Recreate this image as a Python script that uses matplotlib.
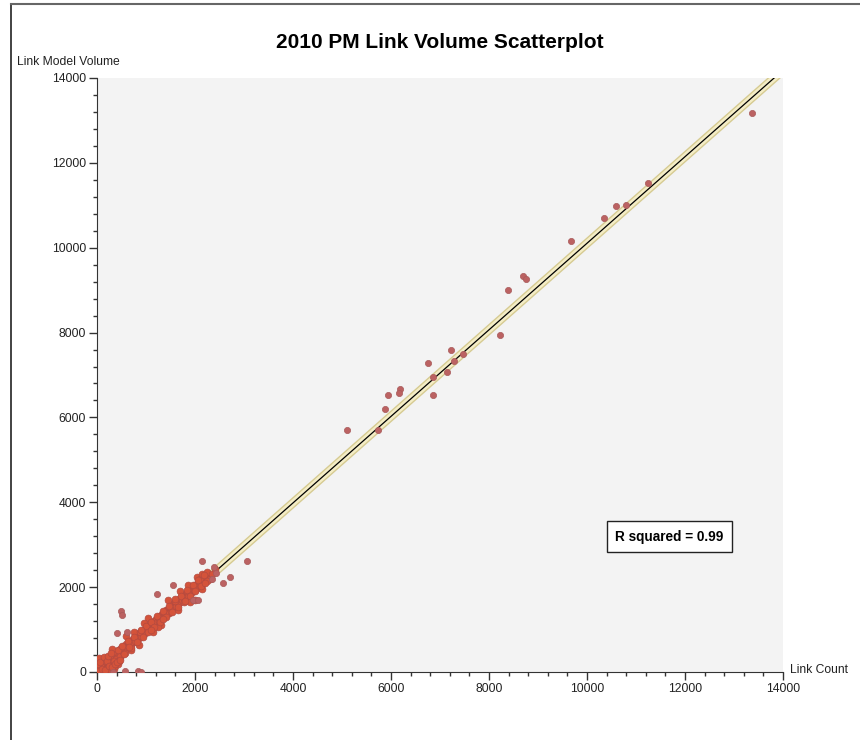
import matplotlib.pyplot as plt
from matplotlib.ticker import MultipleLocator
from matplotlib.lines import Line2D

plt.rcParams['font.family'] = ['Liberation Sans', 'DejaVu Sans']

# Link count (x) and model volume (y)
# dense cluster near the diagonal
cluster_x = [10, 30, 20, 60, 50, 80, 100, 120, 140, 150, 170, 180, 200, 210, 230, 240, 250,
             270, 280, 300, 310, 320, 340, 350, 370, 380, 400, 410, 420, 440, 450, 460, 480,
             490, 500, 40, 90, 130, 160, 190, 220, 260, 290, 330, 360, 390, 430, 470,
             520, 540, 560, 580, 600, 620, 640, 660, 680, 700, 720, 740, 760, 780, 800, 820,
             840, 860, 880, 900, 920, 940, 960, 980, 1000, 1020, 1040, 1060, 1080, 1100, 1120,
             1140, 1160, 1180, 1200, 1220, 1240, 1260, 1280, 1300, 1320, 1340, 1360, 1380,
             1400, 1420, 1440, 1460, 1480, 1500, 1520, 1540, 1560, 1580, 1600, 1620, 1640,
             1660, 1680, 1700, 1720, 1740, 1760, 1780, 1800, 1820, 1840, 1860, 1880, 1900,
             1920, 1940, 1960, 1980, 2000, 2020, 2040, 2060, 2080, 2100, 2120, 2140, 2160,
             2180, 2200, 2220, 2240, 2260, 2280, 2300,
             700, 850, 1050, 1300, 1700, 1900, 2000, 950, 1150, 600, 450, 300, 1450, 1650,
             1850, 2050, 2150, 750, 1250, 2100, 2150, 2250, 2300, 2350, 2400,
             15, 45, 70, 110, 135, 165, 195, 225, 255, 285, 315, 345, 375, 405, 435, 465,
             510, 570, 630, 690, 750, 810, 870, 930, 990, 1050, 1110, 1170, 1230, 1290,
             1350, 1410, 1470, 1530, 1590, 1650, 1710, 1770, 1830, 1890, 1950, 2010, 2070,
             2130, 2190, 2250, 550, 650, 900, 1100, 1350, 1600, 1800, 2200]
cluster_y = [40, 120, 260, 310, 200, 80, 20, 150, 300, 60, 220, 120, 330, 20, 180, 270, 90,
             350, 220, 150, 400, 280, 60, 330, 420, 230, 360, 480, 300, 400, 520, 350, 470,
             560, 420, 330, 190, 10, 250, 60, 110, 160, 50, 240, 130, 300, 200, 380,
             540, 470, 610, 520, 650, 580, 700, 610, 720, 640, 760, 700, 800, 720, 840, 770,
             880, 800, 910, 850, 960, 880, 1000, 920, 1050, 980, 1090, 1010, 1130, 1060, 1180,
             1090, 1210, 1130, 1250, 1170, 1290, 1200, 1320, 1240, 1360, 1290, 1400, 1320,
             1450, 1360, 1480, 1400, 1520, 1440, 1560, 1470, 1600, 1520, 1640, 1560, 1680,
             1600, 1720, 1650, 1760, 1690, 1800, 1720, 1850, 1760, 1880, 1800, 1920, 1840,
             1960, 1880, 2000, 1930, 2040, 1960, 2080, 2000, 2120, 2050, 2160, 2080, 2200,
             2130, 2240, 2170, 2270, 2200, 2290, 2250,
             520, 640, 1280, 1100, 1900, 1650, 1700, 1150, 950, 850, 250, 550, 1700, 1450,
             2050, 2250, 1950, 950, 1050, 2200, 2300, 2350, 2200, 2300, 2430,
             180, 20, 240, 80, 350, 40, 260, 380, 140, 440, 110, 270, 180, 230, 520, 290,
             620, 450, 720, 560, 820, 700, 940, 830, 1090, 940, 1190, 1060, 1310, 1180,
             1440, 1300, 1560, 1420, 1680, 1540, 1800, 1660, 1940, 1780, 2060, 1900, 2170,
             2030, 2280, 2150, 430, 580, 1000, 1000, 1250, 1720, 1680, 2100]

# scattered points away from the cluster
outlier_x = [13370, 11240, 10790, 10600, 10340, 9670, 8700, 8760, 8380, 8220, 7460, 7280,
             7220, 7140, 6750, 6850, 6850, 6190, 6170, 5930, 5870, 5110, 5740,
             2146, 3066, 2391, 2432, 2575, 2718, 2350, 1226, 1553, 490, 511, 409, 613,
             1962, 2065, 572, 838, 900, 327]
outlier_y = [13180, 11530, 11000, 10980, 10700, 10160, 9330, 9270, 9010, 7950, 7500, 7330,
             7600, 7080, 7280, 6950, 6530, 6670, 6580, 6530, 6200, 5700, 5700,
             2616, 2616, 2475, 2334, 2098, 2239, 2192, 1838, 2050, 1438, 1343, 919, 943,
             1697, 1697, 24, 24, 0, 0]

# fitted line
fit_slope = 1.02
fit_intercept = -95
fit_start = 2250
fit_end = 14000
r_squared = 0.99

fig = plt.figure(figsize=(8.6, 7.4), dpi=100)
ax = fig.add_axes([97 / 860, 68 / 740, 686 / 860, 594 / 740])
ax.set_facecolor('#f3f3f3')

line_x = [fit_start, fit_end]
line_y = [fit_slope * v + fit_intercept for v in line_x]
ax.plot(line_x, line_y, color='#d6cb92', lw=6.5, solid_capstyle='butt', zorder=2)
ax.plot(line_x, line_y, color='#f4edc6', lw=4.5, solid_capstyle='butt', zorder=2)
ax.plot(line_x, line_y, color='black', lw=0.9, zorder=3)

ax.scatter(cluster_x, cluster_y, s=24, color='#d4533a', edgecolor='#b34a40', lw=0.5, zorder=4)
ax.scatter(outlier_x, outlier_y, s=20, color='#bb6262', edgecolor='#a85a5a', lw=0.5, zorder=4)

ax.set_xlim(0, 14000)
ax.set_ylim(0, 14000)
ax.xaxis.set_major_locator(MultipleLocator(2000))
ax.xaxis.set_minor_locator(MultipleLocator(400))
ax.yaxis.set_major_locator(MultipleLocator(2000))
ax.yaxis.set_minor_locator(MultipleLocator(400))
ax.tick_params(which='major', length=6, width=1, color='#333333', labelsize=8.7,
               labelcolor='#222222', pad=2)
ax.tick_params(which='minor', length=3, width=1, color='#333333')
for s in ['top', 'right']:
    ax.spines[s].set_visible(False)
for s in ['left', 'bottom']:
    ax.spines[s].set_color('#333333')

ax.text(0.5, 1.06, '2010 PM Link Volume Scatterplot', transform=ax.transAxes,
        ha='center', va='center', fontsize=15, fontweight='bold')
fig.text(17 / 860, 1 - 62 / 740, 'Link Model Volume', ha='left', va='center', fontsize=8.7,
         color='#222222')
fig.text(790 / 860, 1 - 670 / 740, 'Link Count', ha='left', va='center', fontsize=8.7,
         color='#222222')
ax.text(0.8346, 0.228, 'R squared = %.2f' % r_squared, transform=ax.transAxes,
        ha='center', va='center', fontsize=9.8, fontweight='bold',
        bbox=dict(boxstyle='square,pad=0.6', facecolor='white', edgecolor='#222222', lw=1))

# window frame on the left and top
fig.add_artist(Line2D([11 / 860, 11 / 860], [0, 1 - 4 / 740], color='#222222', lw=1.2))
fig.add_artist(Line2D([11 / 860, 1], [1 - 4 / 740, 1 - 4 / 740], color='#666666', lw=1.5))

plt.savefig('out.png', dpi=100)
